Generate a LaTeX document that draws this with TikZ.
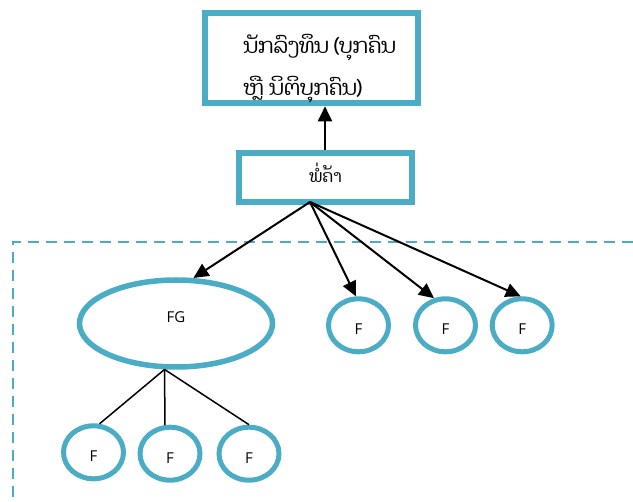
\documentclass[tikz,border=0pt]{standalone}
\usepackage{fontspec}
\setmainfont{Open Sans}
\newfontfamily\laofont[Script=Lao]{Dhyana}
\usetikzlibrary{arrows.meta,shapes.geometric}
\definecolor{accent}{HTML}{4BACC6}
\newcommand{\shiftv}[2]{\raisebox{#1}[\height][\depth]{#2}}
\tikzset{
  boxnode/.style={draw=accent, line width=6pt, fill=white, rectangle, inner sep=0pt},
  ovalnode/.style={draw=accent, line width=5.5pt, fill=white, ellipse, inner sep=0pt},
  leafnode/.style={draw=accent, line width=5pt, fill=white, ellipse, inner sep=0pt,
    minimum width=60pt, minimum height=53pt, font=\fontsize{15}{17}\selectfont},
  arr/.style={line width=2pt, -{Triangle[length=15pt,width=14pt]}},
  thin/.style={line width=1.5pt},
  frame/.style={draw=accent, line width=2.5pt, dash pattern=on 11pt off 7pt}
}
\begin{document}
\begin{tikzpicture}[x=1pt,y=-1pt]
\useasboundingbox (0,0) rectangle (633,502);
% dashed frame
\draw[frame] (633,242) -- (13,242) -- (13,502);
% boxes
\node[boxnode, minimum width=213pt, minimum height=90pt,
  font=\laofont\fontsize{21}{42}\selectfont] (inv) at (311.7,58.3)
  {\shiftv{-8pt}{\begin{tabular}{@{\hspace*{16pt}}l@{}}ນັກລົງທຶນ (ບຸກຄົນ\\ຫຼື ນິຕິບຸກຄົນ)\end{tabular}}};
\node[boxnode, minimum width=173pt, minimum height=49pt,
  font=\laofont\fontsize{17}{21}\selectfont] (trader) at (325.5,177.5) {\shiftv{5pt}{ພໍ່ຄ້າ}};
% group oval
\node[ovalnode, minimum width=193pt, minimum height=87pt,
  font=\fontsize{15}{17}\selectfont] (fg) at (176,323.5) {\shiftv{6pt}{FG}};
% leaf circles
\node[leafnode] (c1) at (358.5,325.3) {\shiftv{-4pt}{F}};
\node[leafnode] (c2) at (445.5,325.3) {\shiftv{-4pt}{F}};
\node[leafnode] (c3) at (522.2,325.3) {\shiftv{-4pt}{F}};
\node[leafnode] (b1) at (93.5,452.3) {\shiftv{-4pt}{F}};
\node[leafnode] (b2) at (170,453.7) {\shiftv{-4pt}{F}};
\node[leafnode] (b3) at (249,453.7) {\shiftv{-4pt}{F}};
% connectors
\coordinate (src) at (310,202);
\coordinate (fgb) at (fg.256);
\draw[arr] (trader.north -| 325,0) -- (inv.south -| 325,0);
\draw[arr] (src) -- (fg.69);
\draw[arr] (src) -- (c1.95);
\draw[arr] (src) -- (c2.113);
\draw[arr] (src) -- (c3.93);
\draw[thin] (fgb) -- (b1.78);
\draw[thin] (fgb) -- (b2.100);
\draw[thin] (fgb) -- (b3.north);
\end{tikzpicture}
\end{document}
